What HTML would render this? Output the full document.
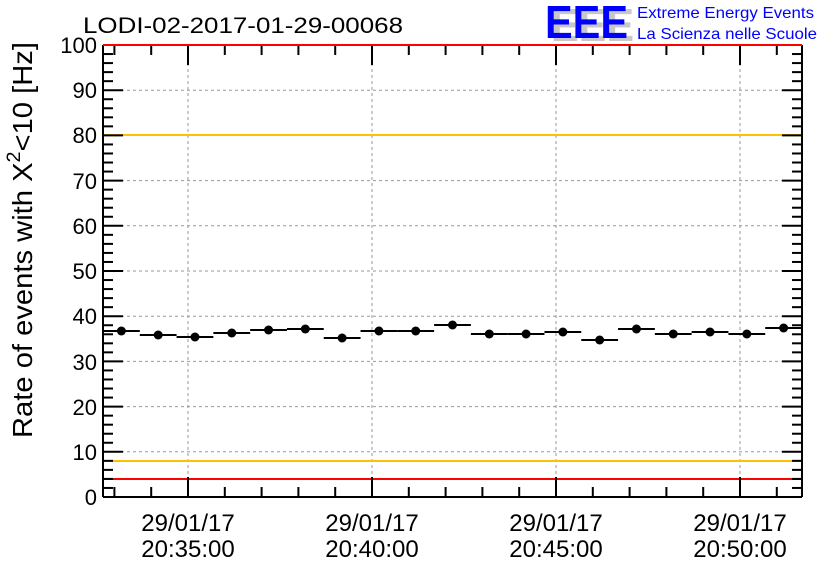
<!DOCTYPE html>
<html><head><meta charset="utf-8"><style>
body{margin:0;background:#fff}
svg text{font-family:"Liberation Sans",sans-serif}
</style></head><body>
<svg id="s" width="836" height="572" xmlns="http://www.w3.org/2000/svg">
<rect width="836" height="572" fill="#fff"/>
<g id="grid" stroke="#999" stroke-dasharray="3,3" stroke-width="1"></g>
<line x1="103" y1="135" x2="802" y2="135" stroke="#ffc000" stroke-width="2"/>
<line x1="103" y1="461" x2="802" y2="461" stroke="#ffc000" stroke-width="2"/>
<line x1="103" y1="479" x2="802" y2="479" stroke="#ff0000" stroke-width="2"/>
<g id="ax" stroke="#000" stroke-width="2" fill="none"></g>
<g id="data"></g>
<line x1="103" y1="45" x2="802" y2="45" stroke="#ff0000" stroke-width="2"/>
<text x="83" y="33" font-size="22" textLength="320" lengthAdjust="spacingAndGlyphs">LODI-02-2017-01-29-00068</text>
<g font-size="22" text-anchor="end">
<text x="97" y="53">100</text><text x="97" y="98">90</text><text x="97" y="143">80</text>
<text x="97" y="189">70</text><text x="97" y="234">60</text><text x="97" y="279">50</text>
<text x="97" y="324">40</text><text x="97" y="370">30</text><text x="97" y="415">20</text>
<text x="97" y="460">10</text><text x="97" y="505">0</text>
</g>
<g font-size="24" text-anchor="middle">
<text x="188" y="531">29/01/17</text><text x="188" y="557">20:35:00</text>
<text x="372" y="531">29/01/17</text><text x="372" y="557">20:40:00</text>
<text x="556" y="531">29/01/17</text><text x="556" y="557">20:45:00</text>
<text x="740" y="531">29/01/17</text><text x="740" y="557">20:50:00</text>
</g>
<text transform="translate(32,438) rotate(-90)" font-size="28" textLength="396" lengthAdjust="spacingAndGlyphs">Rate of events with X<tspan dy="-12" font-size="19">2</tspan><tspan dy="12">&lt;10 [Hz]</tspan></text>
<g font-family="Liberation Sans" font-weight="bold" font-size="46">
<text x="551" y="41" fill="#c8c8c8" textLength="83" lengthAdjust="spacingAndGlyphs">EEE</text>
<text x="545" y="38" fill="#0000ff" textLength="83" lengthAdjust="spacingAndGlyphs">EEE</text>
</g>
<text x="637" y="18" font-size="16" fill="#0000ff" textLength="177" lengthAdjust="spacingAndGlyphs">Extreme Energy Events</text>
<text x="637" y="39" font-size="16" fill="#0000ff" textLength="180" lengthAdjust="spacingAndGlyphs">La Scienza nelle Scuole</text>
</svg>
<script>
var NS="http://www.w3.org/2000/svg";
function L(g,x1,y1,x2,y2){var l=document.createElementNS(NS,"line");l.setAttribute("x1",x1);l.setAttribute("y1",y1);l.setAttribute("x2",x2);l.setAttribute("y2",y2);document.getElementById(g).appendChild(l);}
var L0=103,R=802,T=45,B=497;
for(var v=10;v<100;v+=10){var y=B-v*4.52;L("grid",L0,y,R,y);}
[188,372,556,740].forEach(function(x){L("grid",x,T,x,B);});
L("ax",L0,T,L0,B);L("ax",L0,B,R,B);L("ax",R,T,R,B);
for(var v=0;v<=100;v+=2){var y=B-v*4.52,len=(v%10==0)?20:10;L("ax",L0,y,L0+len,y);L("ax",R,y,R-len,y);}
for(var x=188-36.8*2;x<R;x+=36.8){var maj=Math.abs(((x-188)/184)-Math.round((x-188)/184))<0.01;var len=maj?20:10;L("ax",x,B,x,B-len);L("ax",x,T,x,T+len);}
var ys=[331,335,337,333,330,329,338,331,331,325,334,334,332,340,329,334,332,334,328];
var w=699/19,d=document.getElementById("data");
ys.forEach(function(y,i){var x0=L0+i*w;var l=document.createElementNS(NS,"line");l.setAttribute("x1",x0);l.setAttribute("x2",x0+w);l.setAttribute("y1",y);l.setAttribute("y2",y);l.setAttribute("stroke","#000");l.setAttribute("stroke-width","2");d.appendChild(l);var c=document.createElementNS(NS,"circle");c.setAttribute("cx",x0+w/2);c.setAttribute("cy",y);c.setAttribute("r","4.5");c.setAttribute("fill","#000");d.appendChild(c);});
</script>
</body></html>
